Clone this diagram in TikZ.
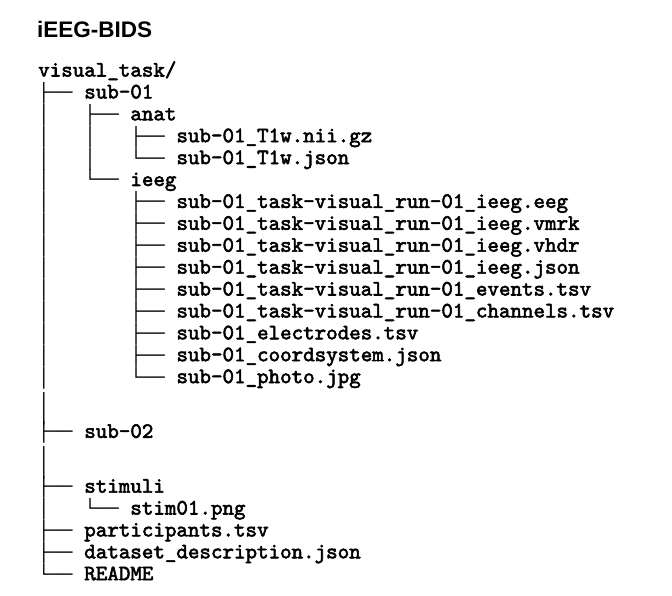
\documentclass[tikz,border=0pt]{standalone}
\usepackage{fontspec}
\setmainfont{Liberation Sans}
\newfontfamily\treefont{Liberation Mono}
\newfontfamily\nmfont{lmmono10-regular}[Extension=.otf,FakeBold=2.5]
\newcommand\trV{│\ \ \ }
\newcommand\trT{├──\ }
\newcommand\trL{└──\ }
\newcommand\trS{\ \ \ \ }
\newcommand\nm[1]{{\nmfont\fontsize{21.94}{22}\selectfont #1}}
\begin{document}
\begin{tikzpicture}[x=1pt,y=-1pt,
  row/.style={anchor=base west,inner sep=0pt,
    font=\treefont\bfseries\fontsize{19.2}{22}\selectfont},
  barrow/.style={anchor=north west,inner sep=0pt,
    font=\treefont\bfseries\fontsize{19.2}{22}\selectfont},
  titlestyle/.style={anchor=base west,inner sep=0pt,
    font=\bfseries\fontsize{22.5}{26}\selectfont}]
\useasboundingbox[fill=white] (0,0) rectangle (672,596);
\node[titlestyle] (title) at (37,37.5) {iEEG-BIDS};
\node[row] (root) at (38,76.5) {\nm{visual\_task/}};
\node[row] (sub01) at (38,98.4) {\trT\nm{sub-01}};
\node[row] (anat) at (38,120.3) {\trV\trT\nm{anat}};
\node[row] (t1nii) at (38,142.2) {\trV\trV\trT\nm{sub-01\_T1w.nii.gz}};
\node[row] (t1json) at (38,164.1) {\trV\trV\trL\nm{sub-01\_T1w.json}};
\node[row] (ieeg) at (38,186.0) {\trV\trL\nm{ieeg}};
\node[row] (feeg) at (38,207.9) {\trV\trS\trT\nm{sub-01\_task-visual\_run-01\_ieeg.eeg}};
\node[row] (fvmrk) at (38,229.8) {\trV\trS\trT\nm{sub-01\_task-visual\_run-01\_ieeg.vmrk}};
\node[row] (fvhdr) at (38,251.7) {\trV\trS\trT\nm{sub-01\_task-visual\_run-01\_ieeg.vhdr}};
\node[row] (fjson) at (38,273.6) {\trV\trS\trT\nm{sub-01\_task-visual\_run-01\_ieeg.json}};
\node[row] (fevents) at (38,295.5) {\trV\trS\trT\nm{sub-01\_task-visual\_run-01\_events.tsv}};
\node[row] (fchan) at (38,317.4) {\trV\trS\trT\nm{sub-01\_task-visual\_run-01\_channels.tsv}};
\node[row] (felec) at (38,339.3) {\trV\trS\trT\nm{sub-01\_electrodes.tsv}};
\node[row] (fcoord) at (38,361.2) {\trV\trS\trT\nm{sub-01\_coordsystem.json}};
\node[row] (fphoto) at (38,383.1) {\trV\trS\trL\nm{sub-01\_photo.jpg}};
\node[barrow] (bar1) at (38,392) {\scalebox{1}[1.5]{│}};
\node[row] (sub02) at (38,437.85) {\trT\nm{sub-02}};
\node[barrow] (bar2) at (38,446.7) {\scalebox{1}[1.5]{│}};
\node[row] (stim) at (38,492.6) {\trT\nm{stimuli}};
\node[row] (stim01) at (38,514.5) {\trV\trL\nm{stim01.png}};
\node[row] (parts) at (38,536.4) {\trT\nm{participants.tsv}};
\node[row] (dset) at (38,558.3) {\trT\nm{dataset\_description.json}};
\node[row] (readme) at (38,580.2) {\trL\nm{README}};
\end{tikzpicture}
\end{document}
